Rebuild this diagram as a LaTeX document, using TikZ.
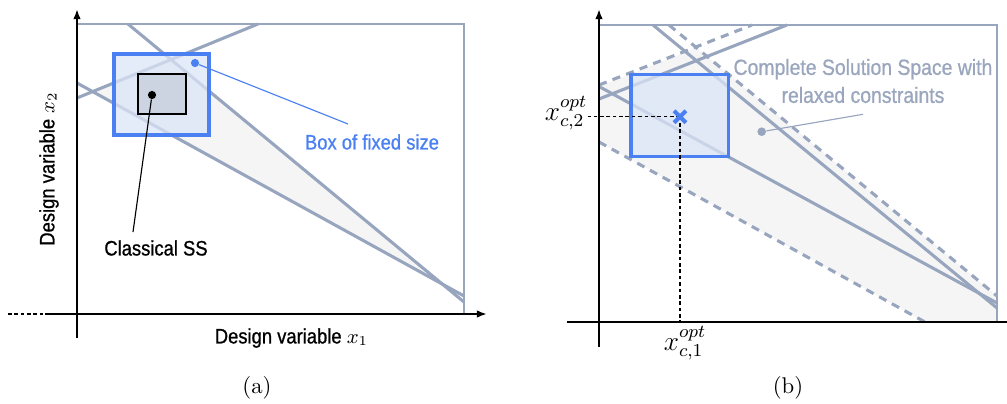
\documentclass[tikz,border=0pt]{standalone}
\usepackage{fontspec}
\newfontfamily\lab[FakeStretch=0.88,FakeBold=0.9]{Liberation Sans}
\usetikzlibrary{arrows.meta,shapes.misc}
\definecolor{cgray}{HTML}{97A5BE}
\definecolor{tgray}{HTML}{9AA6BD}
\definecolor{cblue}{HTML}{4A80F2}
\definecolor{boxfill}{HTML}{DCE5F7}
\definecolor{innerfill}{HTML}{CCD4E1}
\definecolor{ssfill}{HTML}{F5F5F5}
\tikzset{
  ax/.style={line width=0.95pt, black},
  axtip/.style={-{Latex[length=4.5pt,width=3.4pt]}},
  frame/.style={cgray, line width=0.75pt},
  cline/.style={cgray, line width=1.35pt},
  dline/.style={cgray, line width=1.35pt, dash pattern=on 3.6pt off 2.8pt},
  bigbox/.style={draw=cblue, line width=1.5pt, fill=boxfill, fill opacity=0.75},
  innerbox/.style={draw=black, line width=0.95pt, fill=innerfill},
  dot/.style={circle, inner sep=0pt, minimum size=3pt},
  sslab/.style={font=\lab\fontsize{9.2}{11}\selectfont, inner sep=0pt},
  leader/.style={line width=0.5pt},
  guide/.style={black, line width=0.45pt, dash pattern=on 1.6pt off 1.2pt},
  capt/.style={font=\fontsize{10}{12}\selectfont, inner sep=0pt},
  mlab/.style={font=\fontsize{12}{14}\selectfont, inner sep=0pt}
}
\begin{document}
\begin{tikzpicture}[x=0.44pt, y=-0.44pt]
\useasboundingbox (0,0) rectangle (1007,403);

% ---------------- panel (a) ----------------
\fill[ssfill] (92.6,91.6) -- (171,59.6) -- (442.3,284.1) -- cycle;
\draw[frame] (77,24) -- (464,24) -- (464,314);
\draw[cline] (128,24) -- (464,302);
\draw[cline] (77,83) -- (464,296);
\draw[cline] (77,98) -- (258,24);
\path[bigbox] (114,54) rectangle (209,135);
\path[innerbox] (138,74) rectangle (186,114);

\node[dot, fill=black, minimum size=3.6pt] (cdot) at (152,95) {};
\node[sslab] (ctext) at (156,248) {Classical SS};
\coordinate (cend) at (133,232);
\draw[leader] (cdot) -- (cend);

\node[dot, fill=cblue, minimum size=3.6pt] (bdot) at (195,63) {};
\node[sslab, text=cblue] (btext) at (372,142) {Box of fixed size};
\coordinate (bend) at (348,124);
\draw[leader, cblue] (bdot) -- (bend);

\coordinate (ayt) at (77,9);
\coordinate (ayb) at (77,338);
\coordinate (axl) at (45,314);
\coordinate (axr) at (487,314);
\coordinate (axd) at (8,314);
\draw[ax, axtip] (ayb) -- (ayt);
\draw[ax, axtip] (axl) -- (axr);
\draw[guide] (axd) -- (axl);

\node[sslab] (x1lab) at (291.5,338) {Design variable $x_1$};
\node[sslab, rotate=90] (x2lab) at (49,169) {Design variable $x_2$};
\node[capt] (capa) at (257,388) {(a)};

% ---------------- panel (b) ----------------
\fill[ssfill] (599,86.6) -- (696.5,47.7) -- (997,296) -- (997,322) -- (925,322) -- (599,142) -- cycle;
\draw[frame] (599,25) -- (997,25) -- (997,322);
\draw[dline] (669,25) -- (997,296);
\draw[dline] (599,85) -- (752,25);
\draw[dline] (599,142) -- (925,322);
\draw[cline] (653,25) -- (997,308);
\draw[cline] (599,86.5) -- (997,303);
\draw[cline] (599,99) -- (787,25);
\path[bigbox] (631,74.7) rectangle (728.3,156.7);

\coordinate (gl) at (588,116.7);
\coordinate (gb) at (680,322);
\coordinate (optc) at (680,116.7);
\draw[guide] (optc) -- (gl);
\draw[guide] (optc) -- (gb);
\node[cross out, draw=cblue, line width=1.8pt, minimum size=3.4pt, inner sep=0pt] (opt) at (optc) {};

\node[dot, fill=cgray, minimum size=3.8pt] (sdot) at (761.7,131.7) {};
\node[sslab, text=tgray, font=\lab\fontsize{9.7}{12.3}\selectfont, align=center] (stext) at (863,81) {Complete Solution Space with\\relaxed constraints};
\coordinate (send) at (863,114.3);
\draw[leader, cgray] (sdot) -- (send);

\coordinate (byt) at (599,9);
\coordinate (byb) at (599,347);
\coordinate (bxl) at (567,322);
\coordinate (bxr) at (1007,322);
\draw[ax, axtip] (byb) -- (byt);
\draw[ax] (bxl) -- (bxr);

\node[mlab] (l2) at (566,113) {$x_{c,2}^{opt}$};
\node[mlab] (l1) at (685,343) {$x_{c,1}^{opt}$};
\node[capt] (capb) at (788,388) {(b)};
\end{tikzpicture}
\end{document}
